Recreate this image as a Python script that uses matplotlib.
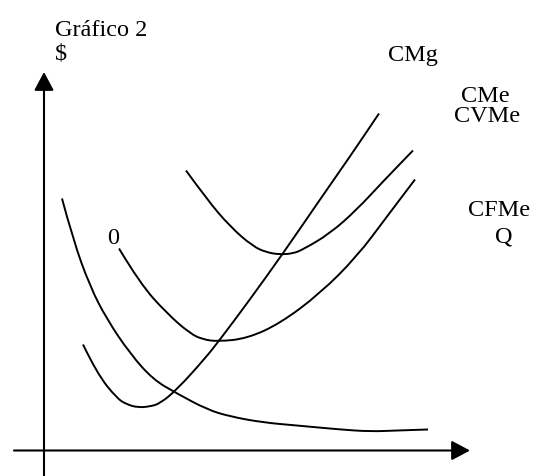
import matplotlib
matplotlib.use("Agg")
import matplotlib.pyplot as plt
from matplotlib.patches import FancyArrowPatch, PathPatch
from matplotlib.path import Path

plt.rcParams['font.family'] = ['Liberation Serif', 'DejaVu Serif']

# cost curves (Q, $)
cfme_q = [1.8, 2.9, 4.6, 6.3, 8.6, 10.9, 13.3, 16.3, 18.6, 21.9, 25.3, 29.6, 32.6, 35.3, 38.4]
cfme_c = [25.2, 21.1, 16.4, 13.1, 9.7, 7.1, 5.7, 4.1, 3.4, 2.8, 2.5, 2.1, 1.9, 2.0, 2.1]

cmg_q = [3.9, 5.3, 7.3, 8.3, 9.4, 10.6, 11.6, 13.3, 16.1, 17.6, 20.3, 23.9, 27.6, 30.6, 33.5]
cmg_c = [10.6, 7.7, 5.2, 4.6, 4.3, 4.4, 4.7, 6.1, 9.2, 11.1, 14.7, 19.7, 25.1, 29.4, 33.7]

cvme_q = [7.5, 9.6, 12.3, 14.6, 15.9, 17.4, 20.3, 23.6, 27.6, 31.3, 34.3, 37.1]
cvme_c = [20.2, 16.7, 13.7, 11.7, 11.1, 10.9, 11.2, 12.7, 15.7, 19.4, 23.4, 27.1]

cme_q = [14.2, 16.3, 18.6, 20.9, 22.3, 23.6, 24.9, 25.9, 28.6, 31.3, 33.9, 36.9]
cme_c = [28.0, 25.1, 22.4, 20.4, 19.8, 19.6, 19.7, 20.1, 21.7, 24.1, 26.9, 30.0]

# labels and where they sit
labels = ['Gráfico 2', '$', 'CMg', 'CMe', 'CVMe', 'CFMe', 'Q', '0']
label_q = [1.1, 1.1, 34.4, 41.7, 41.0, 42.4, 45.1, 6.3]
label_c = [41.5, 39.1, 38.9, 34.9, 32.9, 23.5, 20.8, 20.6]


def smooth_path(xs, ys):
    # quadratic bezier pieces, read points used as control points
    pts = list(zip(xs, ys))
    verts = [pts[0]]
    codes = [Path.MOVETO]
    for i in range(1, len(pts) - 1):
        mid = ((pts[i][0] + pts[i + 1][0]) / 2, (pts[i][1] + pts[i + 1][1]) / 2)
        verts += [pts[i], mid]
        codes += [Path.CURVE3, Path.CURVE3]
    verts.append(pts[-1])
    codes.append(Path.LINETO)
    return Path(verts, codes)


fig = plt.figure(figsize=(5.36, 4.76), dpi=100)
ax = fig.add_axes([0, 0, 1, 1])
ax.set_xlim(-4.4, 49.2)
ax.set_ylim(-2.55, 45.05)
ax.axis('off')

# axes with arrows
for start, end in [((0, -3), (0, 37.85)), ((-3.0, 0), (42.6, 0))]:
    ax.add_patch(FancyArrowPatch(start, end, arrowstyle='-|>,head_length=0.75,head_width=0.4',
                                 mutation_scale=15, lw=1.5, color='black',
                                 shrinkA=0, shrinkB=0))

for q, c in [(cfme_q, cfme_c), (cmg_q, cmg_c), (cvme_q, cvme_c), (cme_q, cme_c)]:
    ax.add_patch(PathPatch(smooth_path(q, c), facecolor='none', edgecolor='black',
                           lw=1.4, capstyle='butt'))

for t, x, y in zip(labels, label_q, label_c):
    ax.text(x, y, t, fontsize=17.5, ha='left', va='baseline', color='black')

fig.savefig('out.png', dpi=100)
